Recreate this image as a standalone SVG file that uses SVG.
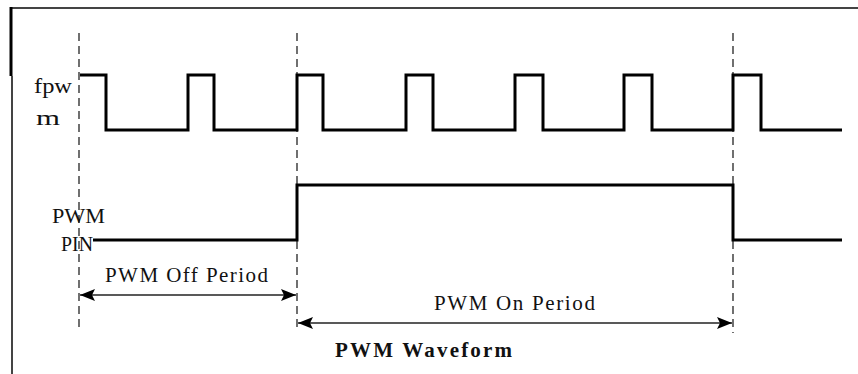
<svg xmlns="http://www.w3.org/2000/svg" width="858" height="374" viewBox="0 0 858 374">
  <style>
    .txt { font-family: "Liberation Serif", "Times New Roman", serif; font-size: 21px; fill: #111; }
    .bold { font-weight: bold; }
    .wave { fill: none; stroke: #000; stroke-width: 3; stroke-linejoin: miter; }
    .guide { fill: none; stroke: #111; stroke-width: 1.2; stroke-dasharray: 8 5; }
    .arrow { fill: none; stroke: #222; stroke-width: 1.5; }
    .frame { fill: none; stroke: #444; stroke-width: 2; }
  </style>
  <defs>
    <marker id="ah" viewBox="0 0 15 12" refX="15" refY="6" markerWidth="15" markerHeight="12" markerUnits="userSpaceOnUse" orient="auto-start-reverse">
      <path d="M0,0 L15,6 L0,12 L3,6 z" fill="#000"/>
    </marker>
  </defs>
  <rect width="858" height="374" fill="#fff"/>

  <g id="frame">
    <line class="frame" x1="10" y1="8" x2="858" y2="8"/>
    <line x1="11" y1="7" x2="11" y2="76" stroke="#000" stroke-width="3"/>
    <line class="frame" x1="12" y1="76" x2="12" y2="374"/>
  </g>

  <g id="guides">
    <line class="guide" x1="79" y1="33" x2="79" y2="331"/>
    <line class="guide" x1="297" y1="33" x2="297" y2="331"/>
    <line class="guide" x1="733" y1="33" x2="733" y2="333" stroke-width="2.2" stroke-dasharray="5 2"/>
  </g>

  <g id="fpwm-signal">
    <path class="wave" d="M80,75 H106 V130 H188 V75 H214 V130 H297 V75 H323 V130 H406 V75 H433 V130 H515 V75 H543 V130 H624 V75 H652 V130 H733 V75 H761 V130 H842"/>
  </g>

  <g id="pwm-pin-signal">
    <path class="wave" d="M93,240 H297 V185 H733 V240 H842"/>
  </g>

  <g id="labels">
    <text class="txt" x="34" y="93" textLength="38" lengthAdjust="spacingAndGlyphs">fpw</text>
    <text class="txt" x="36" y="125" textLength="24" lengthAdjust="spacingAndGlyphs">m</text>
    <text class="txt" x="52" y="223" textLength="53" lengthAdjust="spacingAndGlyphs">PWM</text>
    <text class="txt" x="61" y="251" textLength="32" lengthAdjust="spacingAndGlyphs">PIN</text>
  </g>

  <g id="connectors">
    <g id="off-period">
      <line class="arrow" x1="80" y1="295" x2="296" y2="295" marker-start="url(#ah)" marker-end="url(#ah)"/>
      <text class="txt" x="105" y="282" textLength="163" lengthAdjust="spacing">PWM  Off Period</text>
    </g>
    <g id="on-period">
      <line class="arrow" x1="298" y1="323" x2="732" y2="323" marker-start="url(#ah)" marker-end="url(#ah)"/>
      <text class="txt" x="434" y="310" textLength="161" lengthAdjust="spacing">PWM On Period</text>
    </g>
  </g>

  <g id="title">
    <text class="txt bold" x="335" y="357" textLength="177" lengthAdjust="spacing">PWM Waveform</text>
  </g>
</svg>
